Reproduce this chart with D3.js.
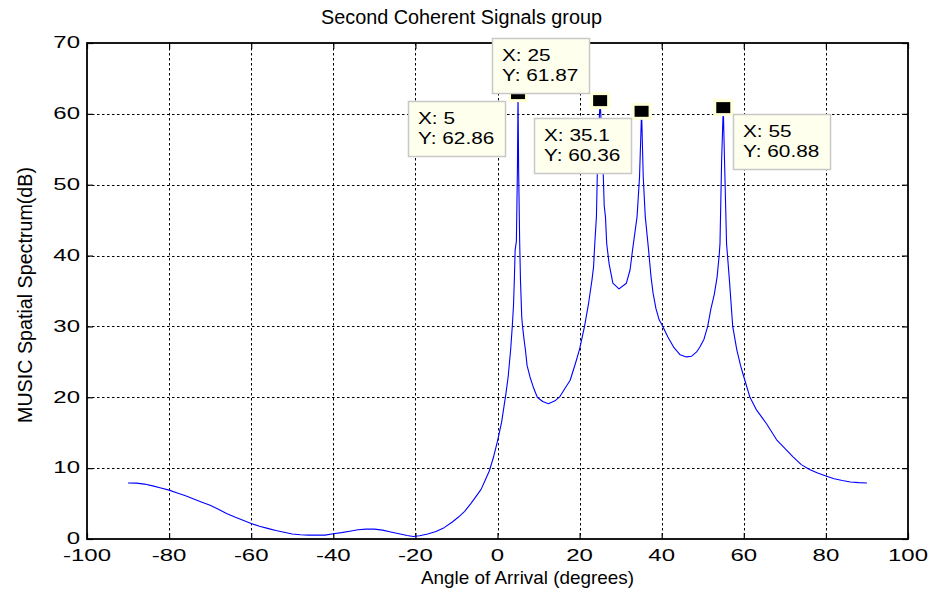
<!DOCTYPE html>
<html>
<head>
<meta charset="utf-8">
<script src="https://cdn.jsdelivr.net/npm/d3@7"></script>
<style>
  html, body { margin: 0; padding: 0; background: #fff; }
  svg { display: block; }
  text { font-family: "Liberation Sans", Arial, Helvetica, sans-serif; fill: #000; }
</style>
</head>
<body>
<svg id="chart" width="939" height="597"></svg>
<script>
// MUSIC spatial spectrum, second group of coherent signals
const angles = [
  -90, -88, -86, -84, -82, -80, -78, -76, -74, -72, -70, -68, -66, -64, -62, -60,
  -58, -56, -54, -52, -50, -48, -46, -44, -42, -40, -38, -36, -34, -32, -30, -28,
  -26, -24, -22, -20.5, -19, -17, -15, -13, -11, -9.5, -8, -6.5, -5, -4, -3, -2,
  -1, 0, 1, 2, 2.6, 3.2, 3.6, 3.9, 4.1, 4.3, 4.6, 4.85, 5, 5.15, 5.4, 5.6,
  5.9, 6.1, 6.5, 6.8, 7.2, 7.9, 8.8, 9.7, 11, 12.4, 14, 15.2, 16.5, 17.7,
  19, 20, 21.2, 22.2, 23.0, 23.4, 23.7, 24.1, 24.45, 25, 25.55, 26.0, 26.3, 26.6,
  27.2, 28.1, 29.6, 31.4, 32.3, 32.9, 34.0, 34.6, 35.1, 35.5, 36.0, 36.8, 37.4, 37.9,
  38.6, 39.4, 40, 41.5, 43, 44.5, 46, 47.3, 48.5, 49.3, 50.3, 51.2, 52, 52.8,
  53.5, 54.0, 54.2, 54.6, 55, 55.3, 55.8, 56.5, 57.3, 58.3, 59.2, 60, 61.5, 63,
  65.5, 68, 70, 72, 74, 76, 78, 80, 82, 84, 86, 88, 90
];
const spectrum = [
  7.9, 7.88, 7.75, 7.5, 7.2, 6.9, 6.5, 6.1, 5.65, 5.2, 4.75, 4.2, 3.6, 3.1, 2.65, 2.2,
  1.8, 1.5, 1.2, 0.95, 0.7, 0.6, 0.55, 0.55, 0.55, 0.75, 0.9, 1.1, 1.3, 1.4, 1.4, 1.25,
  1.0, 0.75, 0.5, 0.35, 0.45, 0.7, 1.05, 1.6, 2.4, 3.1, 3.9, 5.0, 6.2, 7.0, 8.3, 9.6,
  11.5, 13.8, 16.5, 20.3, 22.9, 26.7, 30, 33, 36.5, 40.8, 42, 52, 62.86, 52, 42, 36.5,
  31.4, 30, 28, 26.7, 24.5, 22.9, 21.3, 20, 19.4, 19.1, 19.5, 20.1, 21.3, 22.4,
  24.8, 26.8, 30, 33.3, 36.5, 38.4, 41.7, 45.5, 55.3, 61.87, 55.3, 47, 45.5, 41.7,
  38.8, 36.1, 35.3, 36.1, 38, 40.8, 45.5, 51.1, 60.36, 51.1, 45.5, 40.8, 37, 34.7,
  32.5, 30.9, 30.3, 28.5, 27, 26, 25.7, 25.8, 26.4, 27.1, 28.2, 30, 32.5, 34.5,
  37, 40, 41.7, 53.5, 60.88, 53.5, 41.7, 36.5, 30, 26.7, 24.5, 22.9, 20, 18.3,
  16.3, 14.0, 12.8, 11.6, 10.5, 9.8, 9.3, 8.9, 8.5, 8.25, 8.05, 7.95, 7.9
];

// Data-tip readouts at the four spectral peaks
const peakAngles = [5, 25, 35.1, 55];
const peakValues = [62.86, 61.87, 60.36, 60.88];
const peakAngleText = ["5", "25", "35.1", "55"];
const peakValueText = ["62.86", "61.87", "60.36", "60.88"];

const xTicks = [-100, -80, -60, -40, -20, 0, 20, 40, 60, 80, 100];
const yTicks = [0, 10, 20, 30, 40, 50, 60, 70];

const titleText = "Second Coherent Signals group";
const xLabelText = "Angle of Arrival (degrees)";
const yLabelText = "MUSIC Spatial Spectrum(dB)";

const svg = d3.select("#chart");
const plot = { left: 87, right: 908, top: 43, bottom: 539 };

const x = d3.scaleLinear().domain([-100, 100]).range([plot.left, plot.right]);
const y = d3.scaleLinear().domain([0, 70]).range([plot.bottom, plot.top]);
const crisp = v => Math.round(v) + 0.5;

// grid
const grid = svg.append("g").attr("stroke", "#000").attr("stroke-width", 1)
  .attr("stroke-dasharray", "2.5,2.5");
grid.selectAll("line.v").data(xTicks.slice(1, -1)).join("line")
  .attr("x1", d => crisp(x(d))).attr("x2", d => crisp(x(d)))
  .attr("y1", plot.top).attr("y2", plot.bottom);
grid.selectAll("line.h").data(yTicks.slice(1, -1)).join("line")
  .attr("y1", d => crisp(y(d))).attr("y2", d => crisp(y(d)))
  .attr("x1", plot.left).attr("x2", plot.right);

// axes with inward ticks on all four sides
const tickLen = 6;
const axisBottom = d3.axisBottom(x).tickValues(xTicks).tickSizeInner(-tickLen).tickSizeOuter(0).tickFormat("");
const axisTop = d3.axisTop(x).tickValues(xTicks).tickSizeInner(-tickLen).tickSizeOuter(0).tickFormat("");
const axisLeft = d3.axisLeft(y).tickValues(yTicks).tickSizeInner(-tickLen).tickSizeOuter(0).tickFormat("");
const axisRight = d3.axisRight(y).tickValues(yTicks).tickSizeInner(-tickLen).tickSizeOuter(0).tickFormat("");

function styleAxis(g) {
  g.select(".domain").remove();
  g.selectAll(".tick line").attr("stroke", "#000").attr("stroke-width", 1.2);
}
svg.append("g").attr("transform", `translate(0,${plot.bottom})`).call(axisBottom).call(styleAxis);
svg.append("g").attr("transform", `translate(0,${plot.top})`).call(axisTop).call(styleAxis);
svg.append("g").attr("transform", `translate(${plot.left},0)`).call(axisLeft).call(styleAxis);
svg.append("g").attr("transform", `translate(${plot.right},0)`).call(axisRight).call(styleAxis);

// tick labels
const tickFont = 16, tickStretch = 1.5;
svg.append("g").selectAll("text").data(xTicks).join("text")
  .attr("transform", d => `translate(${x(d)},561) scale(${tickStretch},1)`)
  .attr("text-anchor", "middle").attr("font-size", tickFont)
  .text(d => d);
svg.append("g").selectAll("text").data(yTicks).join("text")
  .attr("transform", d => `translate(80,${y(d) - 0.5}) scale(${tickStretch},1)`)
  .attr("text-anchor", "end").attr("dy", "0.36em").attr("font-size", tickFont)
  .text(d => d);

// spectrum curve
const pts = angles.map((a, i) => [a, spectrum[i]]);
svg.append("path").datum(pts)
  .attr("fill", "none").attr("stroke", "#0000ff").attr("stroke-width", 1.1)
  .attr("stroke-linejoin", "round")
  .attr("d", d3.line().x(d => x(d[0])).y(d => y(d[1])));

// frame
svg.append("rect")
  .attr("x", plot.left).attr("y", plot.top)
  .attr("width", plot.right - plot.left).attr("height", plot.bottom - plot.top)
  .attr("fill", "none").attr("stroke", "#000").attr("stroke-width", 1.8);

// peak markers
const peaks = peakAngles.map((a, i) => ({ a, v: peakValues[i], at: peakAngleText[i], vt: peakValueText[i] }));
svg.append("g").selectAll("rect").data(peaks).join("rect")
  .attr("x", d => x(d.a) - 8.5).attr("y", d => y(d.v) - 7)
  .attr("width", 17).attr("height", 14)
  .attr("fill", "#000").attr("stroke", "#ffffd8").attr("stroke-width", 3);

// readout boxes, offset from each marker
const tipOffset = [[-110, 7], [-108, -63], [-108, 7], [10, 6]];
const tipW = 97, tipH = 55;
const tips = svg.append("g").selectAll("g").data(peaks).join("g")
  .attr("transform", (d, i) => `translate(${Math.round(x(d.a) + tipOffset[i][0])},${Math.round(y(d.v) + tipOffset[i][1])})`);
tips.append("rect")
  .attr("x", 0.5).attr("y", 0.5).attr("width", tipW).attr("height", tipH)
  .attr("fill", "#ffffee").attr("stroke", "#c8c8c8").attr("stroke-width", 1.5);
tips.append("text").attr("transform", "translate(10,23) scale(1.3,1)")
  .attr("font-size", 16).text(d => "X: " + d.at);
tips.append("text").attr("transform", "translate(10,43) scale(1.3,1)")
  .attr("font-size", 16).text(d => "Y: " + d.vt);

// titles
svg.append("text").attr("x", 321).attr("y", 24)
  .attr("font-size", 19.5).attr("textLength", 281).attr("lengthAdjust", "spacingAndGlyphs")
  .text(titleText);
svg.append("text").attr("x", 421).attr("y", 584)
  .attr("font-size", 19).attr("textLength", 213).attr("lengthAdjust", "spacingAndGlyphs")
  .text(xLabelText);
svg.append("text").attr("transform", "translate(31.5,423) rotate(-90)")
  .attr("font-size", 21).attr("textLength", 256).attr("lengthAdjust", "spacingAndGlyphs")
  .text(yLabelText);
</script>
</body>
</html>
